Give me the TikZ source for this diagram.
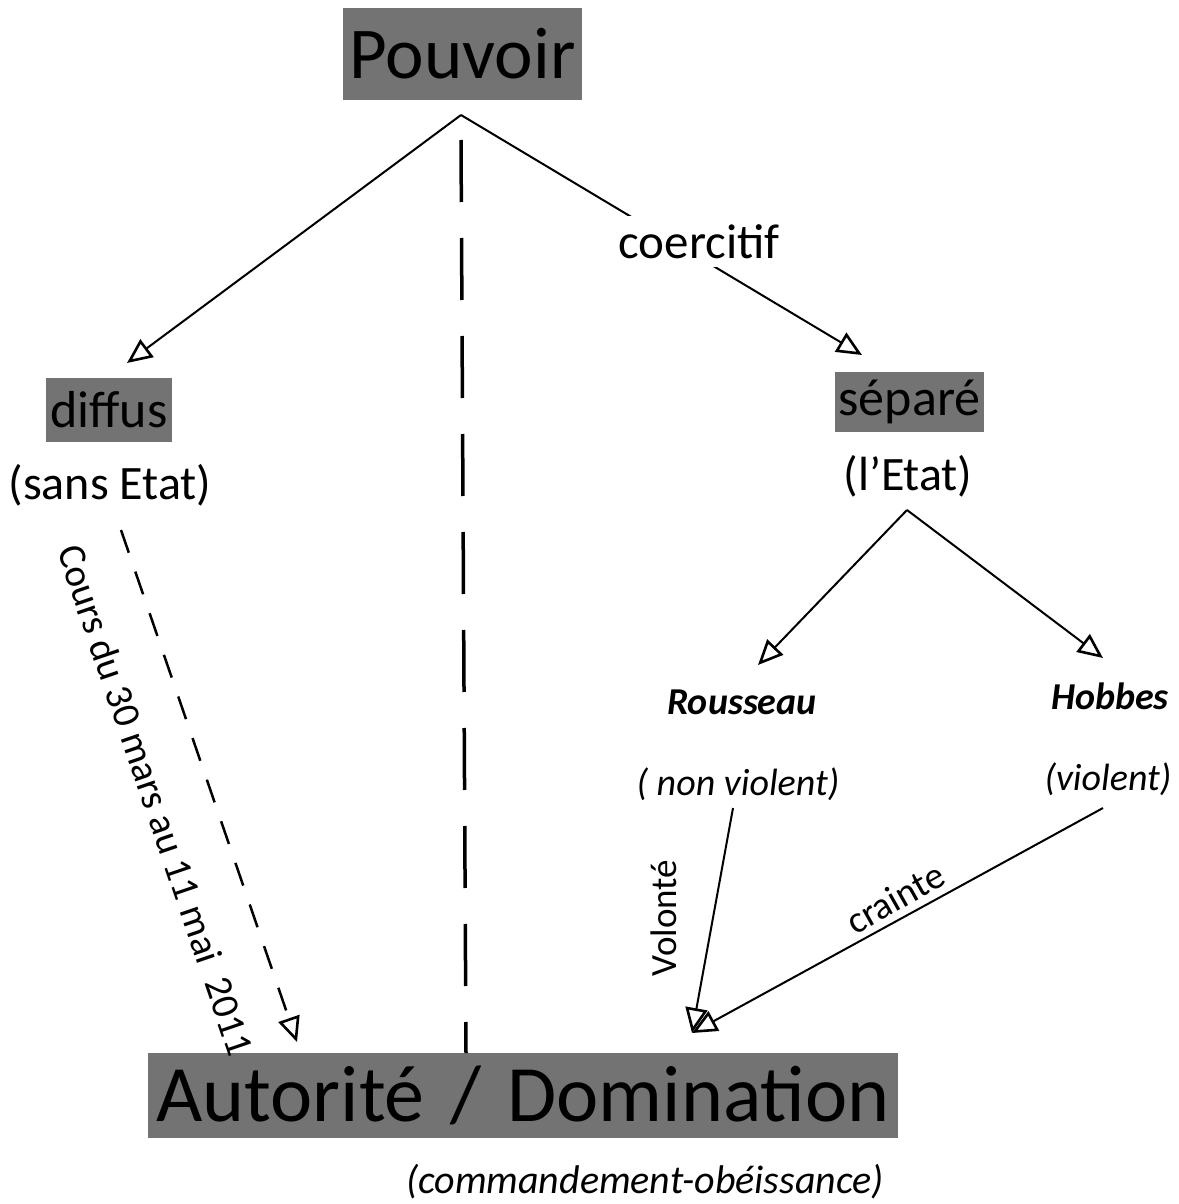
\documentclass[tikz,border=0pt]{standalone}
\usepackage{fontspec}
\setmainfont{Carlito}
\usetikzlibrary{arrows.meta}
\newcommand{\fsz}[1]{\fontsize{#1}{#1}\selectfont}
\begin{document}
\begin{tikzpicture}[x=1pt,y=-1pt,
  graybox/.style={fill=black!55, inner sep=0pt, text=black, anchor=center},
  plain/.style={inner sep=0pt, anchor=center, text=black},
  conn/.style={line width=2pt, -{Triangle[open,length=25pt,width=22pt,line width=2.6pt]}},
  vdash/.style={line width=3.5pt, dash pattern=on 62pt off 36pt},
  ddash/.style={line width=2.5pt, dash pattern=on 24pt off 20pt, -{Triangle[open,length=25pt,width=22pt,line width=2.6pt]}}
]
\useasboundingbox[fill=white] (0,0) rectangle (1178,1204);

% boxes
\node[graybox, minimum width=239pt, minimum height=92pt, font=\fsz{73}] (pouvoir) at (462.5,54) {Pouvoir};
\node[graybox, minimum width=126pt, minimum height=64pt, font=\fsz{52}] (diffus) at (109,410) {diffus};
\node[graybox, minimum width=149pt, minimum height=60pt, font=\fsz{52}] (separe) at (909.5,402) {séparé};
\node[graybox, minimum width=750pt, minimum height=85pt, font=\fsz{80}] (autorite) at (523,1095.5) {Autorité\hspace{26pt}/\hspace{26pt}Domination};

% plain texts
\node[plain, font=\fsz{48}] (sansetat) at (110,485) {(sans Etat)};
\node[plain, font=\fsz{48}] (letat) at (908,476) {(l’Etat)};
\node[plain, font=\fsz{38}\bfseries\itshape] (rousseau) at (742,702) {Rousseau};
\node[plain, font=\fsz{38}\bfseries\itshape] (hobbes) at (1110,696) {Hobbes};
\node[plain, font=\fsz{38}\itshape] (nonviolent) at (738,784) {( non violent)};
\node[plain, font=\fsz{38}\itshape] (violent) at (1108,779) {(violent)};
\node[plain, font=\fsz{40}\itshape] (command) at (645,1182) {(commandement-obéissance)};
\node[plain, font=\fsz{37}, rotate=90] (volonte) at (664,918) {Volonté};
\node[plain, font=\fsz{38}, rotate=29.5] (crainte) at (895,898) {crainte};
\node[plain, font=\fsz{39}, rotate=-71.2] (cours) at (156,800) {Cours du 30 mars au 11 mai \ 2011};

% connector end points
\coordinate (apexP) at (461,115);
\coordinate (tipD) at (127,363);
\coordinate (tipS) at (862,355);
\coordinate (apexE) at (907,510);
\coordinate (tipR) at (758,665);
\coordinate (tipH) at (1103,658);
\coordinate (startV) at (733,808);
\coordinate (startC) at (1103,808);
\coordinate (tipA) at (692,1033);
\coordinate (startDd) at (121,530);
\coordinate (tipDd) at (297,1042);
\coordinate (vtop) at (461,140);
\coordinate (vbot) at (466,1053);

% connectors
\draw[conn] (apexP) -- (tipD);
\draw[conn] (apexP) -- node[pos=0.594, yshift=16pt, fill=white, inner sep=8pt, font=\fsz{49}] (coerc) {coercitif} (tipS);
\draw[conn] (apexE) -- (tipR);
\draw[conn] (apexE) -- (tipH);
\draw[conn] (startV) -- (tipA);
\draw[conn] (startC) -- (tipA);
\draw[ddash] (startDd) -- (tipDd);
\draw[vdash] (vtop) -- (vbot);
\end{tikzpicture}
\end{document}
